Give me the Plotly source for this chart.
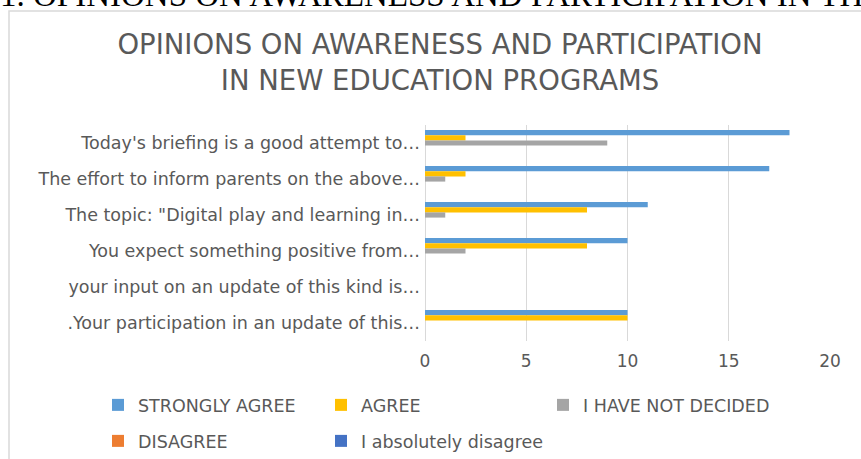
import plotly.graph_objects as go

categories = [
    "Today's briefing is a good attempt to…",
    "The effort to inform parents on the above…",
    "The topic: \"Digital play and learning in…",
    "You expect something positive from…",
    "your input on an update of this kind is…",
    ".Your participation in an update of this…",
]
strongly_agree = [18, 17, 11, 10, 0, 10]
agree = [2, 2, 8, 8, 0, 10]
not_decided = [9, 1, 1, 2, 0, 0]
disagree = [0, 0, 0, 0, 0, 0]
absolutely_disagree = [0, 0, 0, 0, 0, 0]
x_ticks = [0, 5, 10, 15, 20]

series_names = ["STRONGLY AGREE", "AGREE", "I HAVE NOT DECIDED", "DISAGREE", "I absolutely disagree"]
series_values = [strongly_agree, agree, not_decided, disagree, absolutely_disagree]
series_colors = ["#5B9BD5", "#FFC000", "#A5A5A5", "#ED7D31", "#4472C4"]
# legend entry positions (symbol centre x, row centre y) in pixels
legend_pos = [(118, 405), (341, 405), (563, 405), (118, 441), (341, 441)]

W, H = 861, 459
L, R, T, B = 425, 31, 125, 118
PW, PH = W - L - R, H - T - B


def px_x(p):
    return (p - L) / PW


def px_y(p):
    return (T + PH - p) / PH


grey = "#595959"
FONT = "DejaVu Sans"

fig = go.Figure()
legend_layouts = {}
for i, (name, vals, color) in enumerate(zip(series_names, series_values, series_colors)):
    lg = "legend" if i == 0 else f"legend{i + 1}"
    fig.add_trace(go.Bar(
        y=categories, x=vals, name=name, orientation="h",
        marker=dict(color=color, line=dict(width=0)),
        legend=lg,
    ))
    cx, cy = legend_pos[i]
    legend_layouts[lg] = dict(
        orientation="h", xref="paper", yref="paper",
        xanchor="left", yanchor="middle",
        x=px_x(cx - 20), y=px_y(cy),
        font=dict(family=FONT, size=17.5, color=grey),
        bgcolor="rgba(0,0,0,0)",
    )

fig.update_layout(
    width=W, height=H,
    margin=dict(l=L, r=R, t=T, b=B, autoexpand=False),
    paper_bgcolor="white", plot_bgcolor="white",
    barmode="group", bargap=0.28, bargroupgap=0,
    title=dict(
        text="OPINIONS ON AWARENESS AND PARTICIPATION<br>IN NEW EDUCATION PROGRAMS",
        x=440 / W, xanchor="center", xref="container",
        y=1 - 54 / H, yanchor="middle", yref="container",
        font=dict(family=FONT, size=27.5, color=grey),
    ),
    xaxis=dict(
        range=[0, 20], tickvals=x_ticks, showgrid=True, gridcolor="#D9D9D9",
        gridwidth=1, zeroline=True, zerolinecolor="#D9D9D9", zerolinewidth=1,
        showline=False, ticks="", ticklabelstandoff=8,
        tickfont=dict(family=FONT, size=17, color=grey), fixedrange=True,
    ),
    yaxis=dict(
        autorange="reversed", showgrid=False, showline=False, ticks="",
        tickfont=dict(family=FONT, size=17.5, color=grey),
        ticklabelstandoff=4, fixedrange=True,
    ),
    showlegend=True,
    **legend_layouts,
)

# chart frame (light grey border)
fig.add_shape(type="rect", xref="paper", yref="paper",
              x0=px_x(9), x1=px_x(900), y0=px_y(500), y1=px_y(11),
              line=dict(color="#D9D9D9", width=1.5), fillcolor="rgba(0,0,0,0)",
              layer="below")

# cut-off document heading above the chart
fig.add_annotation(
    text="1. OPINIONS ON AWARENESS AND PARTICIPATION IN THE NEW EDUCATION PROGRAMS",
    xref="paper", yref="paper",
    x=px_x(-2), xanchor="left",
    y=px_y(-5), yanchor="middle",
    showarrow=False,
    font=dict(family="Liberation Serif", size=33, color="black"),
)

fig.write_html("out.html", config={"displayModeBar": False},
               post_script="document.body.style.margin='0';")
